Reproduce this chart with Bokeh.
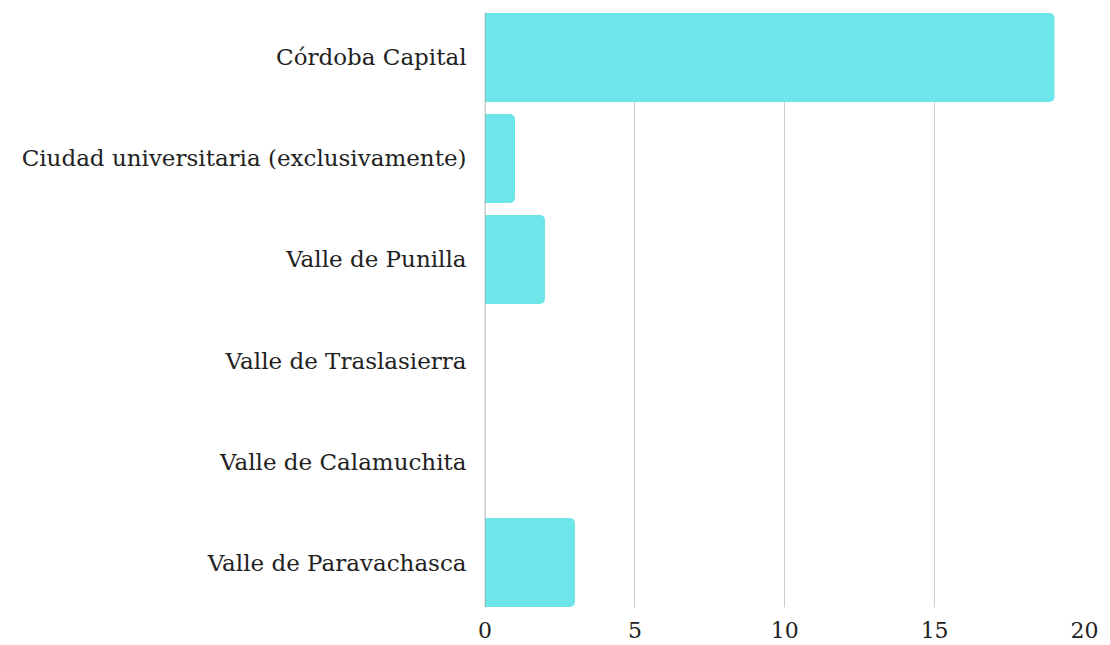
from bokeh.plotting import figure
from bokeh.models import Range1d, FixedTicker, Span, ColumnDataSource
from bokeh.embed import file_html
from bokeh.resources import INLINE

categories = ["Córdoba Capital", "Ciudad universitaria (exclusivamente)", "Valle de Punilla",
              "Valle de Traslasierra", "Valle de Calamuchita", "Valle de Paravachasca"]
values = [19, 1, 2, 0, 0, 3]
x_ticks = [0, 5, 10, 15, 20]

n = len(categories)
ypos = [n - 1 - i for i in range(n)]
src = ColumnDataSource(dict(y=ypos, v=values, name=categories))

FONT = "DejaVu Serif"

p = figure(width=1106, height=644, output_backend="svg", toolbar_location=None,
           x_range=Range1d(-0.0167, 20), y_range=Range1d(-0.445, n - 1 + 0.445),
           min_border_left=484, min_border_top=12, min_border_right=22, min_border_bottom=37)
p.frame_width = 600
p.frame_height = 595
p.outline_line_color = None
p.background_fill_color = "white"

p.hbar(y="y", right="v", left=0, height=0.88, source=src, fill_color="#6ce6e8",
       line_color=None, border_radius=(0, 5, 5, 0))

p.xgrid.ticker = FixedTicker(ticks=[t for t in x_ticks if t != 0])
p.xgrid.grid_line_color = "#cccccc"
p.ygrid.grid_line_color = None
p.add_layout(Span(location=0, dimension="height", line_color="#999999", line_width=1))

p.xaxis.ticker = FixedTicker(ticks=x_ticks)
p.xaxis.axis_line_color = None
p.xaxis.major_tick_line_color = None
p.xaxis.minor_tick_line_color = None
p.xaxis.major_label_text_font = FONT
p.xaxis.major_label_text_font_size = "22px"
p.xaxis.major_label_text_color = "#222222"
p.xaxis.major_label_standoff = 8

p.yaxis.ticker = FixedTicker(ticks=ypos)
p.yaxis.major_label_overrides = {y: c for y, c in zip(ypos, categories)}
p.yaxis.axis_line_color = None
p.yaxis.major_tick_line_color = None
p.yaxis.minor_tick_line_color = None
p.yaxis.major_label_text_font = FONT
p.yaxis.major_label_text_font_size = "23px"
p.yaxis.major_label_text_color = "#222222"
p.yaxis.major_label_standoff = 12

open("out.html", "w").write(file_html(p, INLINE))
